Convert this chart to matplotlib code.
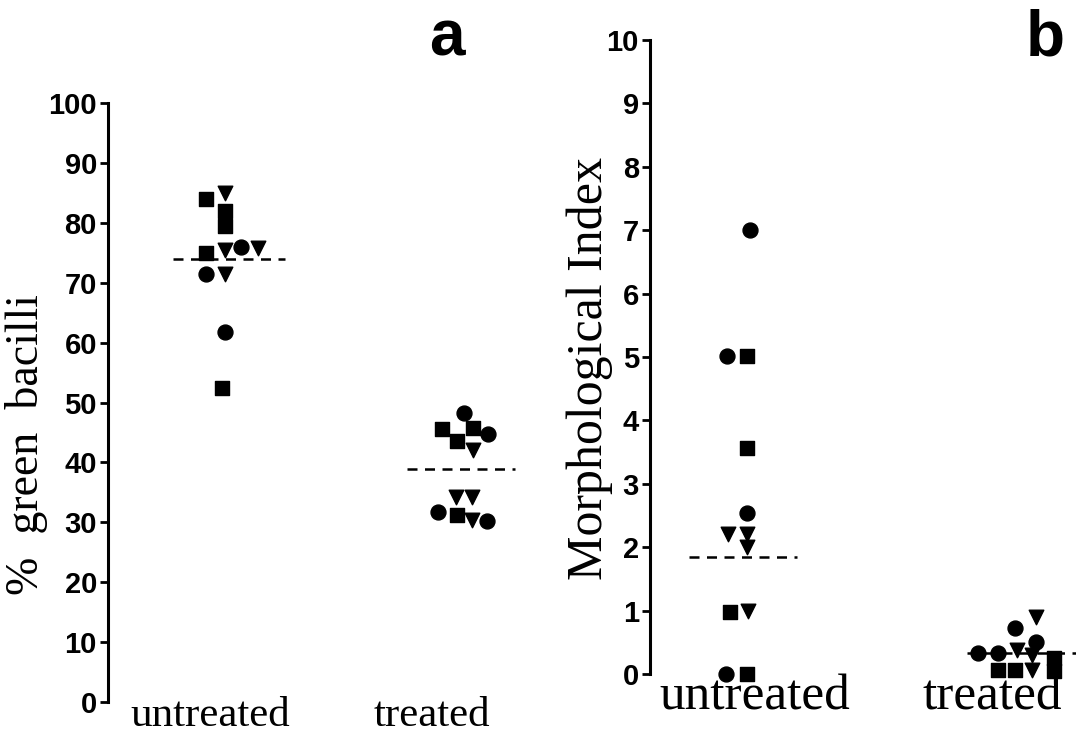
import matplotlib
matplotlib.use("Agg")
import matplotlib.pyplot as plt
import numpy as np

# panel a: % green bacilli (x = offset from group centre, y = value)
a_untr_sq_x = [-0.17, 0.0, 0.0, -0.17, -0.02]
a_untr_sq_y = [84, 82, 79.5, 75, 52.5]
a_untr_tri_x = [0.0, 0.0, 0.31, 0.0]
a_untr_tri_y = [85, 75.5, 75.8, 71.5]
a_untr_circ_x = [0.15, -0.17, 0.0]
a_untr_circ_y = [76, 71.5, 61.8]

a_tr_sq_x = [-0.19, 0.10, -0.05, -0.05]
a_tr_sq_y = [45.6, 45.7, 43.6, 31.2]
a_tr_tri_x = [0.10, -0.06, 0.09, 0.09]
a_tr_tri_y = [42.1, 34.2, 34.2, 30.4]
a_tr_circ_x = [0.02, 0.24, -0.22, 0.23]
a_tr_circ_y = [48.2, 44.7, 31.7, 30.2]

a_means = [73.9, 38.9]

# panel b: morphological index
b_untr_sq_x = [0.0, 0.0, -0.16, 0.0]
b_untr_sq_y = [5.02, 3.56, 0.98, 0.0]
b_untr_tri_x = [-0.18, 0.0, 0.0, 0.01]
b_untr_tri_y = [2.21, 2.21, 2.0, 0.99]
b_untr_circ_x = [0.03, -0.19, 0.0, -0.2]
b_untr_circ_y = [7.0, 5.02, 2.54, 0.0]

b_tr_sq_x = [-0.18, -0.02, 0.34, 0.34]
b_tr_sq_y = [0.06, 0.06, 0.25, 0.05]
b_tr_tri_x = [0.17, 0.0, 0.14, 0.14]
b_tr_tri_y = [0.9, 0.38, 0.3, 0.06]
b_tr_circ_x = [-0.02, 0.17, -0.37, -0.18]
b_tr_circ_y = [0.72, 0.5, 0.33, 0.33]

b_means = [1.85, 0.33]

groups = ["untreated", "treated"]

W, H = 1076, 734
fig = plt.figure(figsize=(W / 100, H / 100), dpi=100)

sans = ["Liberation Sans", "DejaVu Sans"]
serif = ["Liberation Serif", "DejaVu Serif"]
tick_font = {"family": sans, "weight": "bold", "size": 21}


def style_axis(ax, ymax, step):
    for s in ["top", "right", "bottom"]:
        ax.spines[s].set_visible(False)
    ax.spines["left"].set_linewidth(2.2)
    ax.spines["left"].set_bounds(0, ymax)
    ax.set_ylim(0, ymax)
    ax.set_xlim(0, 4)
    ax.set_xticks([])
    ticks = np.arange(0, ymax + step / 2, step)
    ax.set_yticks(ticks)
    ax.set_yticklabels([str(int(t)) for t in ticks], fontdict=tick_font)
    ax.tick_params(axis="y", direction="out", length=6, width=2, pad=2)
    ax.patch.set_alpha(0)


def draw_group(ax, pos, sq, tri, circ, mean, left, right):
    ax.plot([left, right], [mean, mean], color="black", lw=1.8,
            linestyle=(0, (4, 3)), clip_on=False, zorder=2)
    ax.scatter(pos + np.array(sq[0]), sq[1], marker="s", s=90, color="black", zorder=3, clip_on=False)
    ax.scatter(pos + np.array(tri[0]), tri[1], marker="v", s=110, color="black", zorder=3, clip_on=False)
    ax.scatter(pos + np.array(circ[0]), circ[1], marker="o", s=115, color="black", zorder=3, clip_on=False)


# panel a
ax_a = fig.add_axes([108 / W, 1 - 702 / H, (540 - 108) / W, (702 - 103) / H])
style_axis(ax_a, 100, 10)
draw_group(ax_a, 1.08, (a_untr_sq_x, a_untr_sq_y), (a_untr_tri_x, a_untr_tri_y),
           (a_untr_circ_x, a_untr_circ_y), a_means[0], 0.6, 1.64)
draw_group(ax_a, 3.28, (a_tr_sq_x, a_tr_sq_y), (a_tr_tri_x, a_tr_tri_y),
           (a_tr_circ_x, a_tr_circ_y), a_means[1], 2.77, 3.77)

# panel b
ax_b = fig.add_axes([650 / W, 1 - 674 / H, (1076 - 650) / W, (674 - 40) / H])
style_axis(ax_b, 10, 1)
draw_group(ax_b, 0.91, (b_untr_sq_x, b_untr_sq_y), (b_untr_tri_x, b_untr_tri_y),
           (b_untr_circ_x, b_untr_circ_y), b_means[0], 0.37, 1.38)
draw_group(ax_b, 3.45, (b_tr_sq_x, b_tr_sq_y), (b_tr_tri_x, b_tr_tri_y),
           (b_tr_circ_x, b_tr_circ_y), b_means[1], 2.98, 4.1)

# axis titles
fig.text(27 / W, 1 - 445 / H, "%  green  bacilli", rotation=90, ha="center", va="center",
         family=serif, fontsize=33)
fig.text(590 / W, 1 - 368 / H, "Morphological Index", rotation=90, ha="center", va="center",
         family=serif, fontsize=36)

# group labels under each panel
fig.text(210 / W, 1 - 726 / H, groups[0], ha="center", va="baseline", family=serif, fontsize=31)
fig.text(432 / W, 1 - 726 / H, groups[1], ha="center", va="baseline", family=serif, fontsize=31)
fig.text(755 / W, 1 - 710 / H, groups[0], ha="center", va="baseline", family=serif, fontsize=37)
fig.text(992 / W, 1 - 710 / H, groups[1], ha="center", va="baseline", family=serif, fontsize=37)

# panel letters
fig.text(447 / W, 1 - 55 / H, "a", ha="center", va="baseline", fontsize=46, weight="bold",
         family=sans)
fig.text(1045 / W, 1 - 55 / H, "b", ha="center", va="baseline", fontsize=46, weight="bold",
         family=sans)

fig.savefig("out.png", dpi=100)
